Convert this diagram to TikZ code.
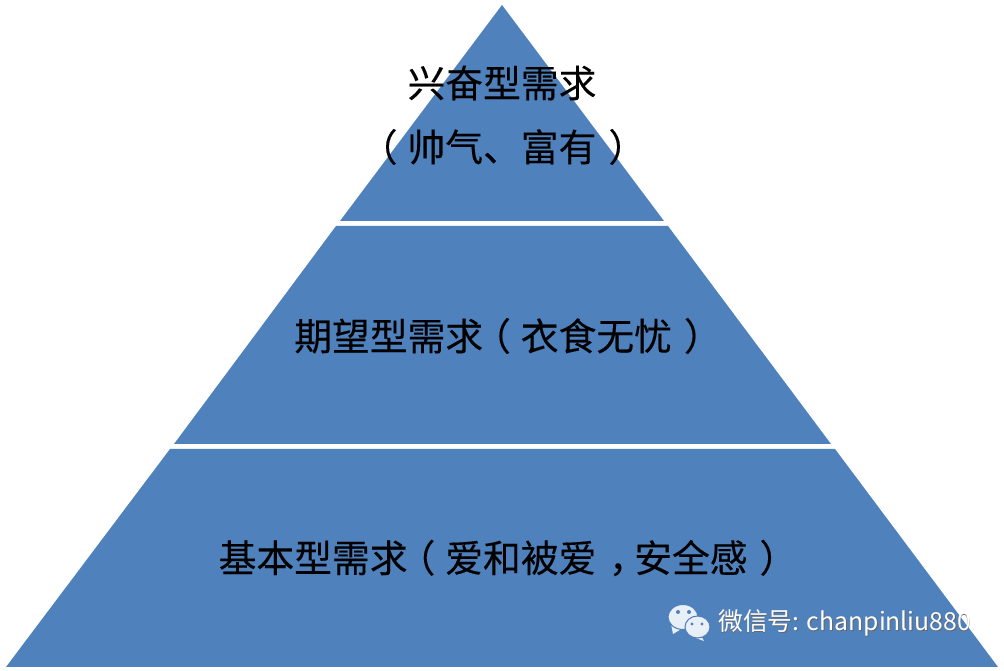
\documentclass[tikz,border=0pt]{standalone}
\usepackage{fontspec}
\newfontfamily\cjk{Noto Sans CJK SC}[FakeBold=0.25]
\newfontfamily\cjkmark{Noto Sans CJK SC}
\definecolor{tierblue}{HTML}{4F81BD}
\definecolor{bubblewhite}{HTML}{E9EFF7}
\newcommand{\lparen}{\kern-0.2cm（\kern0.2cm}
\newcommand{\rparen}{\kern0.24cm）\kern-0.24cm}
\newcommand{\midcomma}{\kern0.25cm，\kern-0.25cm}
\tikzset{tier/.style={fill=tierblue, draw=none}}
\tikzset{label/.style={font=\cjk\fontsize{21.5}{26}\selectfont, text=black, inner sep=0pt}}
\tikzset{bubble/.style={fill=bubblewhite, draw=tierblue, line width=0.6pt}}
\tikzset{wechat/.style={font=\cjkmark\fontsize{14.1}{17}\selectfont, text=white, inner sep=0pt}}

\begin{document}
\begin{tikzpicture}[x=0.02cm, y=-0.02cm]
      \useasboundingbox (0, 0) rectangle (1004, 671);

      \fill[tier] (502, 5) -- (664, 221) -- (340, 221) -- cycle;
      \fill[tier] (336, 226) -- (668, 226) -- (831, 444) -- (174, 444) -- cycle;
      \fill[tier] (170, 449) -- (835, 449) -- (998, 667) -- (6, 667) -- cycle;

      \node[label] (top1) at (502, 83) {兴奋型需求};
      \node[label] (top2) at (502, 147) {\lparen 帅气、富有\rparen};
      \node[label] (mid) at (502, 336) {期望型需求\lparen 衣食无忧\rparen};
      \node[label] (base) at (502, 558) {基本型需求\lparen 爱和被爱\midcomma 安全感\rparen};

      % wechat mark
      \fill[bubble, draw=none] (671, 624) -- (673, 634) -- (683, 628) -- cycle;
      \draw[bubble] (683, 617) ellipse (15 and 12.5);
      \fill[tierblue] (678, 612) circle (2);
      \fill[tierblue] (689, 612) circle (2);
      \fill[bubble, draw=none] (700, 634) -- (704, 641) -- (693, 637) -- cycle;
      \draw[bubble] (697.5, 627) ellipse (12.5 and 11);
      \fill[tierblue] (692, 624) circle (1.7);
      \fill[tierblue] (702, 624) circle (1.7);

      \node[wechat, text=black!60, anchor=west] (markshadow) at (718.6, 623.6) {微信号: chanpinliu880};
      \node[wechat, anchor=west] (mark) at (718, 623) {微信号: chanpinliu880};
    \end{tikzpicture}
\end{document}
